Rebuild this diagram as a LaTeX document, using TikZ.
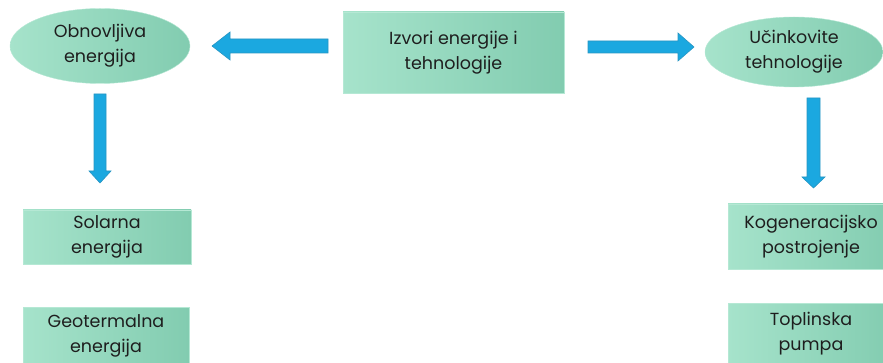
\documentclass[tikz,border=0pt]{standalone}
\usepackage{fontspec}
\setmainfont{Poppins}
\usetikzlibrary{shapes.geometric}
\definecolor{mintA}{HTML}{A6E3CB}
\definecolor{mintB}{HTML}{82CCB0}
\definecolor{mintE}{HTML}{B5E8D4}
\definecolor{arr}{HTML}{1BA8E0}
\definecolor{arrD}{HTML}{2795C2}
\definecolor{txt}{HTML}{1E1E1E}
\begin{document}
\begin{tikzpicture}[x=1pt,y=-1pt,
  boxnode/.style={draw=mintE, line width=0.4pt, left color=mintA, right color=mintB, align=center, text=txt, font=\fontsize{17.5}{25}\selectfont, inner sep=0pt},
  ellnode/.style={boxnode, shape=ellipse},
  blockarrow/.style={fill=arr, draw=arrD, line width=0.6pt, line join=miter}
]
\useasboundingbox (0,0) rectangle (883,363);
\clip (0,0) rectangle (883,363);

\node[ellnode, minimum width=180pt, minimum height=75pt] (obn) at (100,46) {Obnovljiva\\energija};
\node[boxnode, minimum width=221pt, minimum height=81pt] (izv) at (453.5,52.5) {Izvori energije i\\tehnologije};
\node[ellnode, minimum width=178pt, minimum height=70pt] (uci) at (794,52) {Učinkovite\\tehnologije};
\node[boxnode, minimum width=168pt, minimum height=54pt] (sol) at (107,237) {Solarna\\energija};
\node[boxnode, minimum width=166pt, minimum height=58pt] (geo) at (106,336) {Geotermalna\\energija};
\node[boxnode, minimum width=166pt, minimum height=65pt] (kog) at (811,236.5) {Kogeneracijsko\\postrojenje};
\node[boxnode, minimum width=166pt, minimum height=62pt] (top) at (811,334) {Toplinska\\pumpa};

% left arrow
\draw[blockarrow] (328,39) -- (230,39) -- (230,32) -- (212,46) -- (230,60) -- (230,53) -- (328,53) -- cycle;
% right arrow
\draw[blockarrow] (588,41) -- (678,41) -- (678,33) -- (694,47) -- (678,61) -- (678,53) -- (588,53) -- cycle;
% left down arrow
\draw[blockarrow] (94,94) -- (94,171) -- (89,171) -- (100,183) -- (111,171) -- (106,171) -- (106,94) -- cycle;
% right down arrow
\draw[blockarrow] (807,98) -- (807,177) -- (802,177) -- (813.5,188) -- (825,177) -- (820,177) -- (820,98) -- cycle;
\end{tikzpicture}
\end{document}
